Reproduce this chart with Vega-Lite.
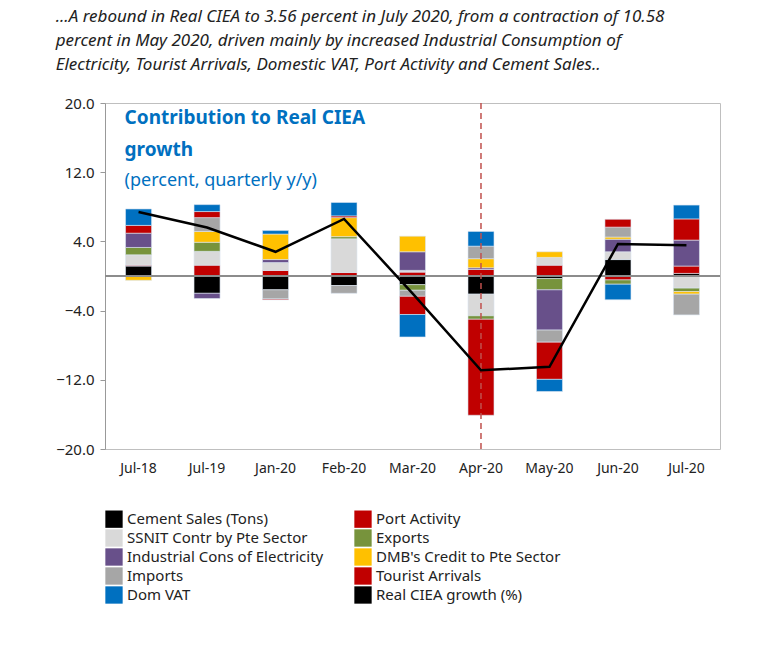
{
  "$schema": "https://vega.github.io/schema/vega-lite/v6.json",
  "width": 615,
  "height": 346,
  "padding": {"left": 55, "top": 8, "right": 50, "bottom": 5},
  "background": "white",
  "config": {"font": "Noto Sans", "view": {"stroke": "#bfbfbf"}},
  "title": {
    "text": ["...A rebound in Real CIEA to 3.56 percent in July 2020, from a contraction of 10.58", "percent in May 2020, driven mainly by increased Industrial Consumption of", "Electricity, Tourist Arrivals, Domestic VAT, Port Activity and Cement Sales.."],
    "anchor": "start", "fontSize": 17, "fontStyle": "italic", "fontWeight": "normal", "color": "#222", "lineHeight": 24, "offset": 22, "dx": 0
  },
  "datasets": {
    "bars": [
      {"date": "Jul-18", "comp": "Cement Sales (Tons)", "value": 1.15},
      {"date": "Jul-18", "comp": "Port Activity", "value": 0.1},
      {"date": "Jul-18", "comp": "SSNIT Contr by Pte Sector", "value": 1.2},
      {"date": "Jul-18", "comp": "Exports", "value": 0.85},
      {"date": "Jul-18", "comp": "Industrial Cons of Electricity", "value": 1.65},
      {"date": "Jul-18", "comp": "DMB's Credit to Pte Sector", "value": -0.5},
      {"date": "Jul-18", "comp": "Tourist Arrivals", "value": 0.9},
      {"date": "Jul-18", "comp": "Dom VAT", "value": 1.9},
      {"date": "Jul-19", "comp": "Cement Sales (Tons)", "value": -2.0},
      {"date": "Jul-19", "comp": "Port Activity", "value": 1.25},
      {"date": "Jul-19", "comp": "SSNIT Contr by Pte Sector", "value": 1.6},
      {"date": "Jul-19", "comp": "Exports", "value": 1.05},
      {"date": "Jul-19", "comp": "Industrial Cons of Electricity", "value": -0.6},
      {"date": "Jul-19", "comp": "DMB's Credit to Pte Sector", "value": 1.25},
      {"date": "Jul-19", "comp": "Imports", "value": 1.6},
      {"date": "Jul-19", "comp": "Tourist Arrivals", "value": 0.7},
      {"date": "Jul-19", "comp": "Dom VAT", "value": 0.8},
      {"date": "Jan-20", "comp": "Cement Sales (Tons)", "value": -1.6},
      {"date": "Jan-20", "comp": "Port Activity", "value": 0.65},
      {"date": "Jan-20", "comp": "SSNIT Contr by Pte Sector", "value": 0.9},
      {"date": "Jan-20", "comp": "Industrial Cons of Electricity", "value": 0.35},
      {"date": "Jan-20", "comp": "DMB's Credit to Pte Sector", "value": 2.95},
      {"date": "Jan-20", "comp": "Imports", "value": -1.05},
      {"date": "Jan-20", "comp": "Tourist Arrivals", "value": -0.1},
      {"date": "Jan-20", "comp": "Dom VAT", "value": 0.4},
      {"date": "Feb-20", "comp": "Cement Sales (Tons)", "value": -1.1},
      {"date": "Feb-20", "comp": "Port Activity", "value": 0.4},
      {"date": "Feb-20", "comp": "SSNIT Contr by Pte Sector", "value": 3.9},
      {"date": "Feb-20", "comp": "Exports", "value": 0.25},
      {"date": "Feb-20", "comp": "DMB's Credit to Pte Sector", "value": 2.2},
      {"date": "Feb-20", "comp": "Imports", "value": -0.9},
      {"date": "Feb-20", "comp": "Tourist Arrivals", "value": 0.2},
      {"date": "Feb-20", "comp": "Dom VAT", "value": 1.55},
      {"date": "Mar-20", "comp": "Cement Sales (Tons)", "value": -1.0},
      {"date": "Mar-20", "comp": "Port Activity", "value": 0.45},
      {"date": "Mar-20", "comp": "SSNIT Contr by Pte Sector", "value": 0.2},
      {"date": "Mar-20", "comp": "Exports", "value": -0.65},
      {"date": "Mar-20", "comp": "Industrial Cons of Electricity", "value": 2.15},
      {"date": "Mar-20", "comp": "DMB's Credit to Pte Sector", "value": 1.8},
      {"date": "Mar-20", "comp": "Imports", "value": -0.7},
      {"date": "Mar-20", "comp": "Tourist Arrivals", "value": -2.1},
      {"date": "Mar-20", "comp": "Dom VAT", "value": -2.6},
      {"date": "Apr-20", "comp": "Cement Sales (Tons)", "value": -2.1},
      {"date": "Apr-20", "comp": "Port Activity", "value": 0.75},
      {"date": "Apr-20", "comp": "SSNIT Contr by Pte Sector", "value": -2.5},
      {"date": "Apr-20", "comp": "Exports", "value": -0.4},
      {"date": "Apr-20", "comp": "Industrial Cons of Electricity", "value": 0.2},
      {"date": "Apr-20", "comp": "DMB's Credit to Pte Sector", "value": 1.05},
      {"date": "Apr-20", "comp": "Imports", "value": 1.45},
      {"date": "Apr-20", "comp": "Tourist Arrivals", "value": -11.1},
      {"date": "Apr-20", "comp": "Dom VAT", "value": 1.7},
      {"date": "May-20", "comp": "Cement Sales (Tons)", "value": -0.3},
      {"date": "May-20", "comp": "Port Activity", "value": 1.25},
      {"date": "May-20", "comp": "SSNIT Contr by Pte Sector", "value": 0.9},
      {"date": "May-20", "comp": "Exports", "value": -1.3},
      {"date": "May-20", "comp": "Industrial Cons of Electricity", "value": -4.65},
      {"date": "May-20", "comp": "DMB's Credit to Pte Sector", "value": 0.65},
      {"date": "May-20", "comp": "Imports", "value": -1.4},
      {"date": "May-20", "comp": "Tourist Arrivals", "value": -4.3},
      {"date": "May-20", "comp": "Dom VAT", "value": -1.4},
      {"date": "Jun-20", "comp": "Cement Sales (Tons)", "value": 1.9},
      {"date": "Jun-20", "comp": "Port Activity", "value": -0.45},
      {"date": "Jun-20", "comp": "SSNIT Contr by Pte Sector", "value": 0.9},
      {"date": "Jun-20", "comp": "Exports", "value": -0.5},
      {"date": "Jun-20", "comp": "Industrial Cons of Electricity", "value": 1.45},
      {"date": "Jun-20", "comp": "DMB's Credit to Pte Sector", "value": 0.25},
      {"date": "Jun-20", "comp": "Imports", "value": 1.15},
      {"date": "Jun-20", "comp": "Tourist Arrivals", "value": 0.9},
      {"date": "Jun-20", "comp": "Dom VAT", "value": -1.8},
      {"date": "Jul-20", "comp": "Cement Sales (Tons)", "value": 0.3},
      {"date": "Jul-20", "comp": "Port Activity", "value": 0.85},
      {"date": "Jul-20", "comp": "SSNIT Contr by Pte Sector", "value": -1.4},
      {"date": "Jul-20", "comp": "Exports", "value": -0.4},
      {"date": "Jul-20", "comp": "Industrial Cons of Electricity", "value": 3.0},
      {"date": "Jul-20", "comp": "DMB's Credit to Pte Sector", "value": -0.3},
      {"date": "Jul-20", "comp": "Imports", "value": -2.4},
      {"date": "Jul-20", "comp": "Tourist Arrivals", "value": 2.45},
      {"date": "Jul-20", "comp": "Dom VAT", "value": 1.6}
    ],
    "line": [
      {"date": "Jul-18", "comp": "Real CIEA growth (%)", "value": 7.4},
      {"date": "Jul-19", "comp": "Real CIEA growth (%)", "value": 5.6},
      {"date": "Jan-20", "comp": "Real CIEA growth (%)", "value": 2.8},
      {"date": "Feb-20", "comp": "Real CIEA growth (%)", "value": 6.6},
      {"date": "Mar-20", "comp": "Real CIEA growth (%)", "value": -2.0},
      {"date": "Apr-20", "comp": "Real CIEA growth (%)", "value": -10.9},
      {"date": "May-20", "comp": "Real CIEA growth (%)", "value": -10.5},
      {"date": "Jun-20", "comp": "Real CIEA growth (%)", "value": 3.7},
      {"date": "Jul-20", "comp": "Real CIEA growth (%)", "value": 3.56}
    ],
    "heads": [
      {"date": "Jul-18", "y": 18.3, "text": "Contribution to Real CIEA"},
      {"date": "Jul-18", "y": 14.6, "text": "growth"}
    ],
    "subs": [
      {"date": "Jul-18", "y": 11.0, "text": "(percent, quarterly y/y)"}
    ]
  },
  "encoding": {
    "x": {
      "field": "date", "type": "ordinal", "sort": null,
      "scale": {"domain": ["Jul-18", "Jul-19", "Jan-20", "Feb-20", "Mar-20", "Apr-20", "May-20", "Jun-20", "Jul-20"], "paddingInner": 0.62, "paddingOuter": 0.3},
      "axis": {"title": null, "labelAngle": 0, "labelFontSize": 14, "labelColor": "#222", "domain": false, "ticks": false, "labelPadding": 12}
    }
  },
  "layer": [
    {
      "data": {"name": "bars"},
      "transform": [
        {"calculate": "indexof(['Cement Sales (Tons)','Port Activity','SSNIT Contr by Pte Sector','Exports','Industrial Cons of Electricity',\"DMB's Credit to Pte Sector\",'Imports','Tourist Arrivals','Dom VAT'], datum.comp)", "as": "ord"}
      ],
      "mark": {"type": "bar", "stroke": "#dbe5f1", "strokeWidth": 0.6},
      "encoding": {
        "y": {
          "field": "value", "type": "quantitative", "stack": "zero",
          "scale": {"domain": [-20, 20]},
          "axis": {"title": null, "values": [-20, -16, -12, -8, -4, 0, 4, 8, 12, 16, 20], "labelOverlap": false, "format": ".1f", "grid": false, "labelFontSize": 15, "labelColor": "#222", "domainColor": "#999", "tickColor": "#999", "tickSize": 5, "labelPadding": 6}
        },
        "order": {"field": "ord", "type": "quantitative"},
        "color": {
          "field": "comp", "type": "nominal",
          "scale": {
            "domain": ["Cement Sales (Tons)", "Port Activity", "SSNIT Contr by Pte Sector", "Exports", "Industrial Cons of Electricity", "DMB's Credit to Pte Sector", "Imports", "Tourist Arrivals", "Dom VAT", "Real CIEA growth (%)"],
            "range": ["#000000", "#c00000", "#d9d9d9", "#77933c", "#68508a", "#ffc000", "#a6a6a6", "#c00000", "#0070c0", "#000000"]
          },
          "legend": {
            "title": null, "orient": "bottom", "columns": 2, "columnPadding": 30, "rowPadding": 1,
            "labelFontSize": 15, "labelColor": "#222", "symbolSize": 300, "labelLimit": 300, "offset": 35,
            "symbolStrokeWidth": 0,
            "encode": {
              "symbols": {
                "enter": {
                  "shape": {"signal": "datum.label === 'Real CIEA growth (%)' ? 'M-2.5,0H2.5' : 'M-2.5,-0.5H2.5V0.5H-2.5Z'"}
                },
                "update": {
                  "shape": {"signal": "datum.label === 'Real CIEA growth (%)' ? 'M-2.5,0H2.5' : 'M-2.5,-0.5H2.5V0.5H-2.5Z'"},
                  "strokeWidth": {"signal": "datum.label === 'Real CIEA growth (%)' ? 2.5 : 0"},
                  "stroke": {"signal": "datum.label === 'Real CIEA growth (%)' ? 'black' : 'transparent'"}
                }
              },
              "labels": {"update": {"dx": {"value": 30}}}
            }
          }
        }
      }
    },
    {
      "data": {"values": [{"v": 0}]},
      "mark": {"type": "rule", "color": "#8c8c8c", "strokeWidth": 2},
      "encoding": {"y": {"datum": 0}, "x": null}
    },
    {
      "data": {"values": [{"d": "Apr-20"}]},
      "mark": {"type": "rule", "color": "#c0504d", "strokeDash": [6, 4], "strokeWidth": 1.5},
      "encoding": {"x": {"field": "d", "type": "ordinal"}}
    },
    {
      "data": {"name": "line"},
      "mark": {"type": "line", "color": "black", "strokeWidth": 2.5},
      "encoding": {
        "y": {"field": "value", "type": "quantitative"}
      }
    },
    {
      "data": {"name": "heads"},
      "mark": {"type": "text", "align": "left", "dx": -14, "fontSize": 19, "fontWeight": "bold", "color": "#0070c0"},
      "encoding": {
        "y": {"field": "y", "type": "quantitative"},
        "text": {"field": "text"}
      }
    },
    {
      "data": {"name": "subs"},
      "mark": {"type": "text", "align": "left", "dx": -14, "fontSize": 18, "color": "#0070c0"},
      "encoding": {
        "y": {"field": "y", "type": "quantitative"},
        "text": {"field": "text"}
      }
    }
  ]
}
